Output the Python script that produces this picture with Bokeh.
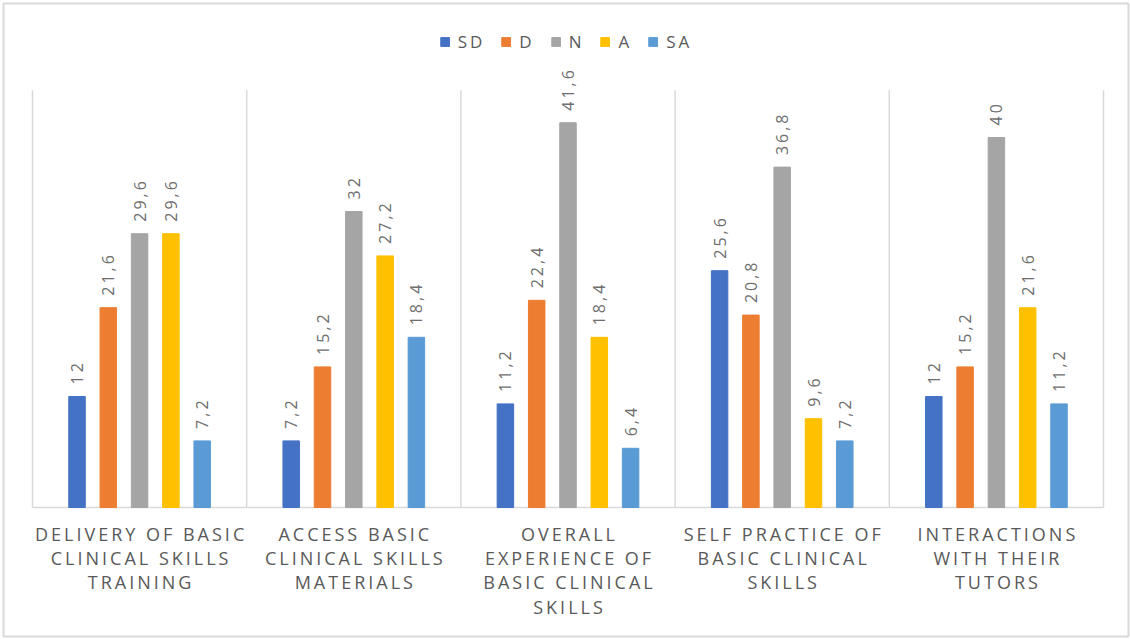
import math
from bokeh.plotting import figure
from bokeh.models import Range1d, ColumnDataSource
from bokeh.core.properties import value
from bokeh.embed import file_html
from bokeh.resources import INLINE

# ---- data ----
categories = [
    "DELIVERY OF BASIC\nCLINICAL SKILLS\nTRAINING",
    "ACCESS BASIC\nCLINICAL SKILLS\nMATERIALS",
    "OVERALL\nEXPERIENCE OF\nBASIC CLINICAL\nSKILLS",
    "SELF PRACTICE OF\nBASIC CLINICAL\nSKILLS",
    "INTERACTIONS\nWITH THEIR\nTUTORS",
]
series = ["SD", "D", "N", "A", "SA"]
sd = [12, 7.2, 11.2, 25.6, 12]
d = [21.6, 15.2, 22.4, 20.8, 15.2]
n = [29.6, 32, 41.6, 36.8, 40]
a = [29.6, 27.2, 18.4, 9.6, 21.6]
sa = [7.2, 18.4, 6.4, 7.2, 11.2]
values = [sd, d, n, a, sa]
colors = ["#4472C4", "#ED7D31", "#A5A5A5", "#FFC000", "#5B9BD5"]

# ---- layout constants ----
W, H = 1130, 639
LEFT, TOP, RIGHT, BOTTOM = 3, 3, 2, 3
PX_CAT = 214.2     # pixels per category
PX_UNIT = 9.25     # pixels per value unit
BASE_X = 32 - LEFT
BASE_Y = 507 - TOP
frame_w = W - LEFT - RIGHT
frame_h = H - TOP - BOTTOM
xs = -BASE_X / PX_CAT
xe = xs + frame_w / PX_CAT
ye = BASE_Y / PX_UNIT
ys = ye - frame_h / PX_UNIT
LS = 3  # letter spacing px
font = value("Open Sans")

p = figure(width=W, height=H, x_range=Range1d(xs, xe), y_range=Range1d(ys, ye),
           output_backend="svg", toolbar_location=None,
           x_axis_location=None, y_axis_location=None,
           min_border_left=LEFT, min_border_top=TOP,
           min_border_right=RIGHT, min_border_bottom=BOTTOM)
for g in p.grid:
    g.visible = False
p.outline_line_color = "#d9d9d9"
p.outline_line_width = 2
p.background_fill_color = "white"
p.border_fill_color = "white"
p.styles = {"letter-spacing": f"{LS}px"}

ncat = len(categories)
top_line = 45.1

# separators and baseline
sep_x = list(range(ncat + 1))
p.segment(x0=sep_x, y0=[0] * len(sep_x), x1=sep_x, y1=[top_line] * len(sep_x),
          line_color="#d9d9d9", line_width=1.5)
p.segment(x0=[0], y0=[0], x1=[ncat], y1=[0], line_color="#d9d9d9", line_width=1.5)

pitch = 31.3 / PX_CAT
bar_w = 16.5 / PX_CAT


def fmt(v):
    s = ("%g" % v)
    return s.replace(".", ",")


for j, (name, vals, col) in enumerate(zip(series, values, colors)):
    xs_bar = [k + 0.5 + (j - 2) * pitch for k in range(ncat)]
    src = ColumnDataSource(dict(x=xs_bar, top=vals, lab=[fmt(v) for v in vals]))
    p.vbar(x="x", top="top", width=bar_w, source=src, fill_color=col,
           line_color=col, legend_label=name)
    p.text(x="x", y="top", text="lab", source=src, angle=math.pi / 2,
           text_align="left", text_baseline="middle", y_offset=-12,
           text_font=font, text_font_size="16px", text_color="#6e6e6e")

# category labels, one line per glyph
cx, ctext, cyoff, cxoff = [], [], [], []
for k, cat in enumerate(categories):
    for i, line in enumerate(cat.split("\n")):
        cx.append(k + 0.5)
        ctext.append(line)
        cyoff.append(26 + 24.4 * i)
        cxoff.append(-LS * (len(line) - 1) / 2)
csrc = ColumnDataSource(dict(x=cx, y=[0] * len(cx), t=ctext, yo=cyoff, xo=cxoff))
p.text(x="x", y="y", text="t", source=csrc, x_offset="xo", y_offset="yo",
       text_align="center", text_baseline="alphabetic",
       text_font=font, text_font_size="18px", text_color="#595959")

lg = p.legend[0]
lg.location = "top_center"
lg.orientation = "horizontal"
lg.border_line_color = None
lg.background_fill_alpha = 0
lg.glyph_width = 11
lg.glyph_height = 11
lg.label_width = 0
lg.label_text_font = "Open Sans"
lg.label_text_font_size = "17px"
lg.label_text_color = "#595959"
lg.label_standoff = 8
lg.spacing = 15
lg.padding = 0
lg.margin = 27

open("out.html", "w").write(file_html(p, INLINE))
